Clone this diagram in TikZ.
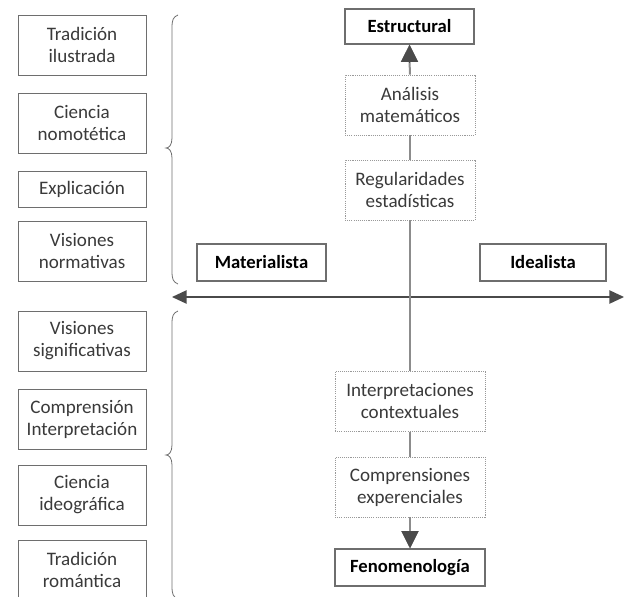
\documentclass[tikz,border=0pt]{standalone}
\usepackage{fontspec}
\setmainfont{Carlito}
\usetikzlibrary{arrows.meta}
\definecolor{txt}{HTML}{3A3A3A}
\definecolor{frame}{HTML}{6E6E6E}
\definecolor{axis}{HTML}{4A4A4A}
\definecolor{spine}{HTML}{8C8C8C}
\begin{document}
\begin{tikzpicture}[x=0.75pt,y=-0.75pt,
  every node/.style={font=\fontsize{14.3}{16.5}\selectfont, inner sep=0pt, align=center},
  sidebox/.style={draw=frame, line width=0.6pt, fill=white, text=txt, minimum width=96pt},
  tall/.style={minimum height=45pt},
  short/.style={minimum height=27pt},
  headbox/.style={draw=frame, line width=0.9pt, fill=white, text=black, font=\fontsize{14}{16.5}\selectfont\bfseries},
  dotbox/.style={draw=frame!70, line width=0.5pt, dash pattern=on 0.8pt off 0.8pt, fill=white, text=txt, minimum height=45pt},
  brace/.style={draw=frame, line width=0.6pt},
  spineline/.style={draw=spine, line width=1.5pt},
  tip/.style={-{Triangle[length=13pt,width=13pt]}, axis}
]
\useasboundingbox (0,0) rectangle (624,596);

% left column of concepts
\node[sidebox,tall]  (ti) at (82,45)  {Tradición\\ilustrada};
\node[sidebox,tall]  (cn) at (82,123) {Ciencia\\nomotética};
\node[sidebox,short] (ex) at (82,189) {Explicación};
\node[sidebox,tall]  (vn) at (82,251) {Visiones\\normativas};
\node[sidebox,tall]  (vs) at (82,341) {Visiones\\significativas};
\node[sidebox,tall]  (ci) at (82,419) {Comprensión\\Interpretación};
\node[sidebox,tall]  (cg) at (82,495) {Ciencia\\ideográfica};
\node[sidebox,tall]  (tr) at (82,570) {Tradición\\romántica};

% braces grouping the two halves
\draw[brace] (178,15) .. controls (173,17) and (172,20) .. (172,28) -- (172,138)
  .. controls (172,145) and (169,148) .. (166,148)
  .. controls (169,148) and (172,151) .. (172,158) -- (172,271)
  .. controls (172,279) and (173,282) .. (178,284);
\draw[brace] (178,311) .. controls (173,313) and (172,316) .. (172,324) -- (172,445)
  .. controls (172,452) and (169,455) .. (166,455)
  .. controls (169,455) and (172,458) .. (172,465) -- (172,586)
  .. controls (172,594) and (173,597) .. (178,599);

% vertical axis
\node[headbox, minimum width=96.75pt, minimum height=26.25pt] (es) at (409.5,26.5) {Estructural};
\node[dotbox, minimum width=97.5pt] (am) at (410,105) {Análisis\\matemáticos};
\node[dotbox, minimum width=97.5pt] (re) at (410,190) {Regularidades\\estadísticas};
\node[dotbox, minimum width=112.5pt] (ic) at (410,401.5) {Interpretaciones\\contextuales};
\node[dotbox, minimum width=112.5pt] (ce) at (410,487) {Comprensiones\\experenciales};
\node[headbox, minimum width=112.5pt, minimum height=27.75pt] (fe) at (410,567.5) {Fenomenología};

% horizontal axis labels
\node[headbox, minimum width=96.75pt, minimum height=27.75pt] (ma) at (261.5,262.5) {Materialista};
\node[headbox, minimum width=94.5pt, minimum height=27.75pt] (id) at (543,262.5) {Idealista};

\coordinate (hl) at (172,297);
\coordinate (hr) at (624,297);
\draw[axis, line width=1.1pt, {Triangle[length=11pt,width=10pt]}-{Triangle[length=11pt,width=10pt]}] (hl) -- (hr);

\draw[spineline] (am) -- (re);
\draw[spineline] (re) -- (ic);
\draw[spineline] (ic) -- (ce);
\draw[spineline] (am.north) -- ([yshift=-12]es.south);
\draw[spineline] (ce.south) -- ([yshift=12]fe.north);
\draw[tip, line width=0.1pt] ([yshift=-13]es.south) -- (es.south);
\draw[tip, line width=0.1pt] ([yshift=13]fe.north) -- (fe.north);
\end{tikzpicture}
\end{document}
